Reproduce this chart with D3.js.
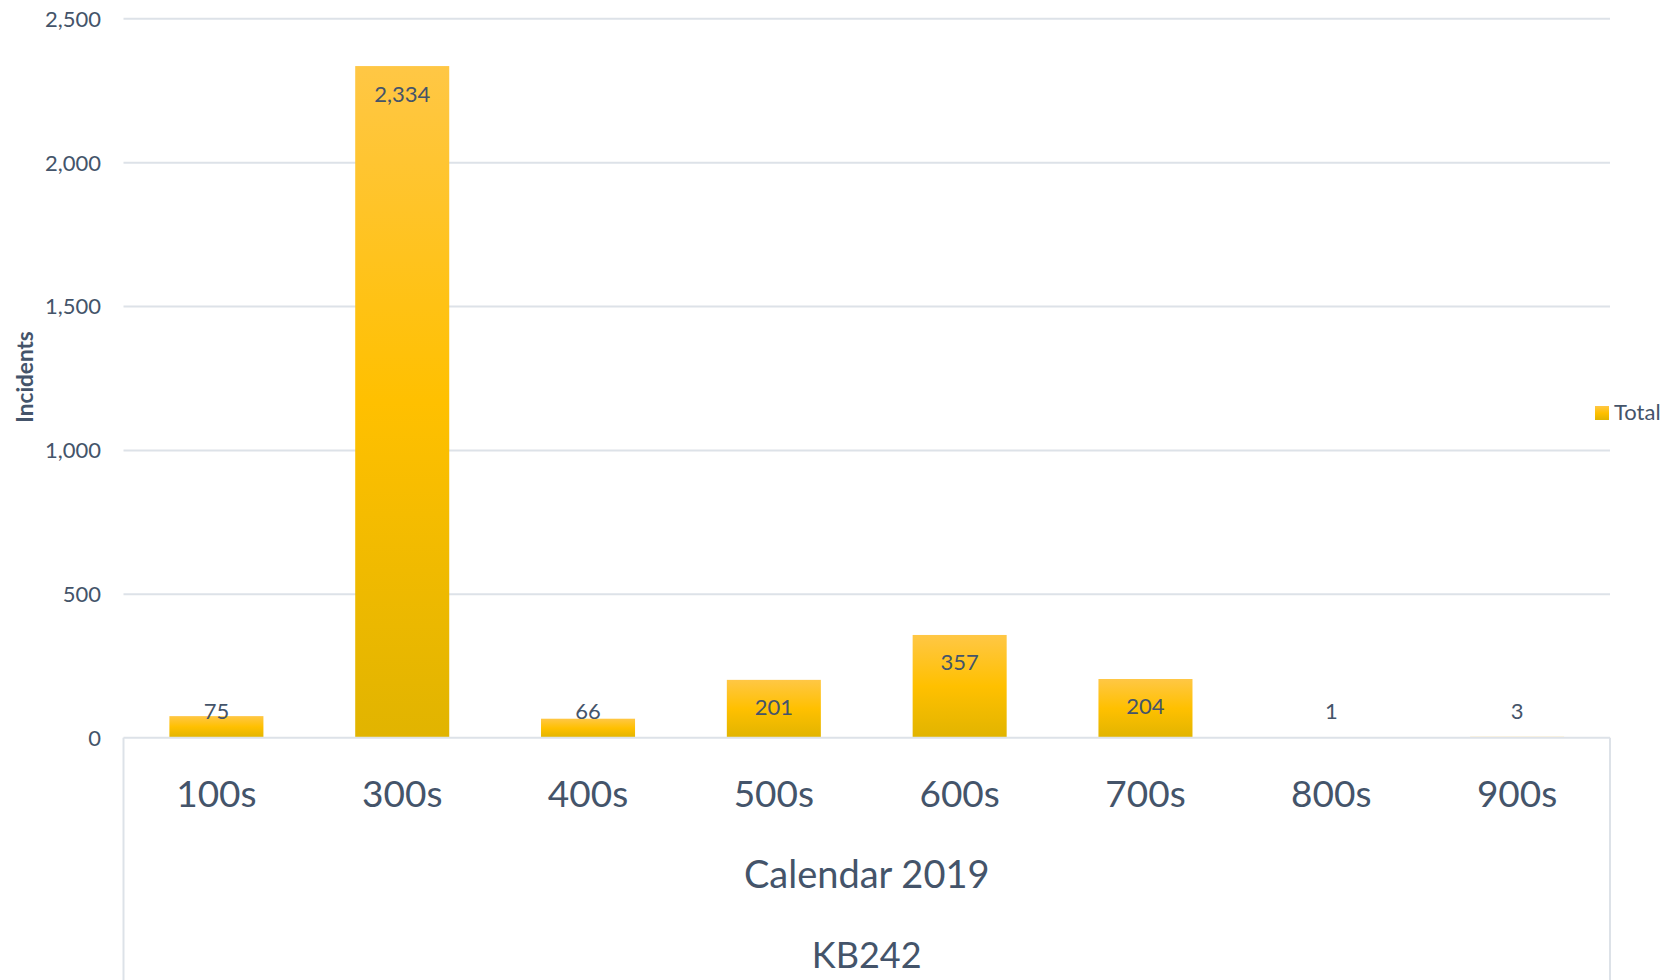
<!DOCTYPE html>
<html>
<head>
<meta charset="utf-8">
<script src="https://cdn.jsdelivr.net/npm/d3@7"></script>
<style>
  html, body { margin: 0; padding: 0; background: #fff; }
  svg { display: block; }
  text { font-family: Lato, "Open Sans", sans-serif; fill: #44546A; }
</style>
</head>
<body>
<svg id="chart" width="1673" height="980"></svg>
<script>
const categories = ["100s", "300s", "400s", "500s", "600s", "700s", "800s", "900s"];
const totals = [75, 2334, 66, 201, 357, 204, 1, 3];
const yTicks = [0, 500, 1000, 1500, 2000, 2500];
const seriesName = "Total";
const yTitle = "Incidents";
const xTitles = ["Calendar 2019", "KB242"];

const W = 1673, H = 980;
const plot = { left: 123.5, right: 1610, top: 18.3, bottom: 737.7 };
const svg = d3.select("#chart");
const textColor = "#44546A";
const gridColor = "#DDE2E8";

const x = d3.scaleBand()
  .domain(categories)
  .range([plot.left, plot.right])
  .paddingInner(0.494)
  .paddingOuter(0.247);

const y = d3.scaleLinear()
  .domain([0, 2500])
  .range([plot.bottom, plot.top]);

// gradient
const defs = svg.append("defs");
const grad = defs.append("linearGradient")
  .attr("id", "barGrad").attr("x1", 0).attr("y1", 0).attr("x2", 0).attr("y2", 1);
grad.append("stop").attr("offset", "0%").attr("stop-color", "#FFC745");
grad.append("stop").attr("offset", "50%").attr("stop-color", "#FFC000");
grad.append("stop").attr("offset", "100%").attr("stop-color", "#E1B400");

// gridlines
const grid = svg.append("g")
  .attr("transform", `translate(${plot.left},0)`)
  .call(d3.axisLeft(y).tickValues(yTicks.filter(d => d !== 0)).tickSize(-(plot.right - plot.left)).tickFormat(""));
grid.select(".domain").remove();
grid.selectAll("line").attr("stroke", gridColor).attr("stroke-width", 2);

// y axis labels
const yAxis = svg.append("g")
  .attr("transform", `translate(101,0)`)
  .call(d3.axisLeft(y).tickValues(yTicks).tickSize(0).tickPadding(0).tickFormat(d3.format(",")));
yAxis.select(".domain").remove();
yAxis.selectAll("text")
  .attr("font-size", 22)
  .attr("dy", "0.36em")
  .style("font-family", "Lato, sans-serif")
  .attr("fill", textColor);

// bars
svg.append("g").selectAll("rect")
  .data(totals)
  .join("rect")
  .attr("x", (d, i) => x(categories[i]))
  .attr("width", x.bandwidth())
  .attr("y", d => y(d))
  .attr("height", d => y(0) - y(d))
  .attr("fill", "url(#barGrad)");

// data labels
svg.append("g").selectAll("text")
  .data(totals)
  .join("text")
  .attr("x", (d, i) => x(categories[i]) + x.bandwidth() / 2)
  .attr("y", d => Math.min(y(d) + 35.5, y(0) - 18.5))
  .attr("text-anchor", "middle")
  .attr("font-size", 22)
  .text(d => d3.format(",")(d));

// axis box: baseline + side verticals
svg.append("line")
  .attr("x1", plot.left).attr("x2", plot.right)
  .attr("y1", y(0)).attr("y2", y(0))
  .attr("stroke", gridColor).attr("stroke-width", 2);
svg.append("line")
  .attr("x1", plot.left).attr("x2", plot.left)
  .attr("y1", y(0)).attr("y2", H)
  .attr("stroke", gridColor).attr("stroke-width", 2);
svg.append("line")
  .attr("x1", plot.right).attr("x2", plot.right)
  .attr("y1", y(0)).attr("y2", H)
  .attr("stroke", gridColor).attr("stroke-width", 2);

// category labels
const xAxis = svg.append("g")
  .attr("transform", `translate(0,${y(0)})`)
  .call(d3.axisBottom(x).tickSize(0).tickPadding(0));
xAxis.select(".domain").remove();
xAxis.selectAll("text")
  .attr("y", 69)
  .attr("dy", 0)
  .attr("font-size", 37)
  .style("font-family", "Lato, sans-serif")
  .attr("fill", textColor);

// x titles
const cx = (plot.left + plot.right) / 2;
svg.append("text").attr("x", cx).attr("y", 888).attr("text-anchor", "middle")
  .attr("font-size", 38).text(xTitles[0]);
svg.append("text").attr("x", cx).attr("y", 968).attr("text-anchor", "middle")
  .attr("font-size", 36).text(xTitles[1]);

// y title
svg.append("text")
  .attr("transform", `translate(33,377) rotate(-90)`)
  .attr("text-anchor", "middle")
  .attr("font-size", 22.5)
  .attr("font-weight", "bold")
  .text(yTitle);

// legend
const lg = svg.append("g").attr("transform", "translate(1595,406)");
lg.append("rect").attr("width", 14).attr("height", 14).attr("fill", "url(#barGrad)");
lg.append("text").attr("x", 19).attr("y", 14).attr("font-size", 22).text(seriesName);
</script>
</body>
</html>
